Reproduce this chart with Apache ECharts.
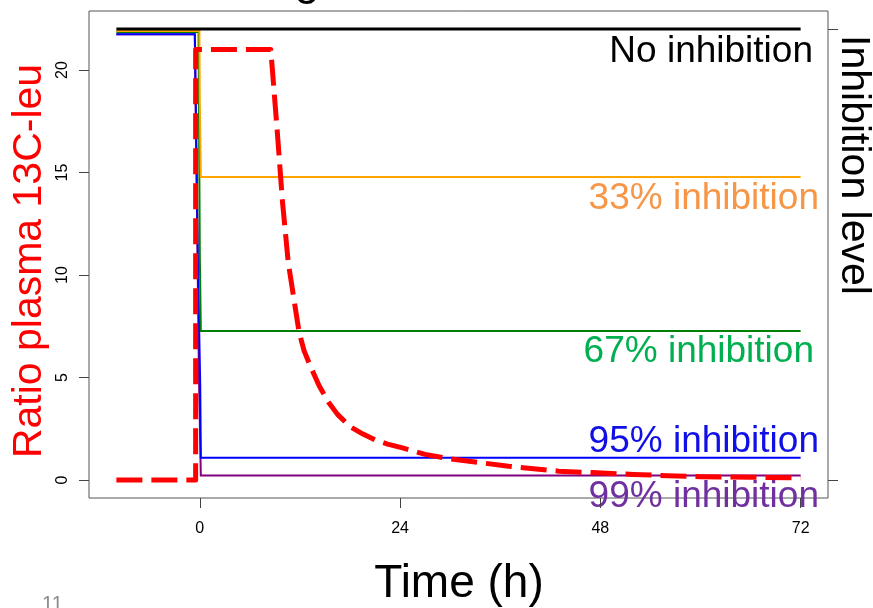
<!DOCTYPE html>
<html>
<head>
<meta charset="utf-8">
<script src="https://cdn.jsdelivr.net/npm/echarts@6/dist/echarts.min.js"></script>
<style>
html,body{margin:0;padding:0;background:#fff;}
#chart{width:873px;height:608px;}
</style>
</head>
<body>
<div id="chart"></div>
<script>
// ---- data ----
const xTicks = [0, 24, 48, 72];
const yTicks = [0, 5, 10, 15, 20];
const rightTicks = [0, 22];

const noInhTime = [-10, 72];
const noInhVal  = [22.0, 22.0];

const inh33Time = [-10, -0.05, 0, 0.12, 72];
const inh33Val  = [21.9, 21.9, 18.4, 14.78, 14.78];

const inh67Time = [-10, -0.15, 0, 0.12, 72];
const inh67Val  = [21.85, 21.85, 10.9, 7.27, 7.27];

const inh95Time = [-10, -0.6, -0.2, 0.05, 0.12, 72];
const inh95Val  = [21.75, 21.75, 10, 4.6, 1.08, 1.08];

const inh99Time = [-10, -0.6, -0.1, 0.12, 72];
const inh99Val  = [21.75, 21.75, 5, 0.22, 0.22];

const plasmaTime = [-10, -0.5, -0.5, 8.5, 8.7, 9.3, 9.9, 10.6, 11.9, 12.5, 13.3, 14.3, 15.4, 16.5, 18, 19.5, 21, 22.5, 24.4, 27, 30, 33.5, 37, 40, 43, 47, 52, 56, 60, 66, 72];
const plasmaVal  = [0, 0, 21.0, 21.0, 20.0, 16.9, 13.6, 10.6, 7.2, 6.3, 5.5, 4.6, 3.8, 3.2, 2.6, 2.25, 1.95, 1.75, 1.55, 1.25, 1.03, 0.85, 0.67, 0.55, 0.43, 0.36, 0.27, 0.21, 0.16, 0.13, 0.1];

const seriesNames = ['99% inhibition', '95% inhibition', '67% inhibition', '33% inhibition', 'No inhibition', 'Ratio plasma 13C-leu'];

function pairs(t, v) { return t.map((x, i) => [x, v[i]]); }

const FONT = 'Liberation Sans, Arial, sans-serif';
const chart = echarts.init(document.getElementById('chart'), null, {renderer: 'canvas'});

function flat(name, t, v, color, width) {
  return {
    name: name, type: 'line', data: pairs(t, v), showSymbol: false, symbol: 'none',
    xAxisIndex: 0, yAxisIndex: 0,
    lineStyle: {color: color, width: width, cap: 'butt', join: 'miter'},
    silent: true, animation: false
  };
}

const option = {
  animation: false,
  grid: {left: 89, right: 45, top: 11, bottom: 110, show: true, borderColor: '#555', borderWidth: 1, backgroundColor: 'transparent'},
  xAxis: {
    type: 'value', min: -13.28, max: 75.28,
    splitLine: {show: false},
    axisLine: {show: false, onZero: false},
    axisTick: {show: true, customValues: xTicks, length: 10, lineStyle: {color: '#444', width: 1}},
    axisLabel: {customValues: xTicks, fontSize: 16, color: '#000', fontFamily: FONT, margin: 23}
  },
  yAxis: [{
    type: 'value', min: -0.88, max: 22.88, position: 'left',
    splitLine: {show: false},
    axisLine: {show: false, onZero: false},
    axisTick: {show: true, customValues: yTicks, length: 10, lineStyle: {color: '#444', width: 1}},
    axisLabel: {customValues: yTicks, fontSize: 16, color: '#000', fontFamily: FONT, rotate: 90, margin: 18}
  }, {
    type: 'value', min: -0.88, max: 22.88, position: 'right',
    splitLine: {show: false},
    axisLine: {show: false, onZero: false},
    axisTick: {show: true, customValues: rightTicks, length: 10, lineStyle: {color: '#444', width: 1}},
    axisLabel: {show: false}
  }],
  series: [
    flat(seriesNames[0], inh99Time, inh99Val, '#800080', 2),
    flat(seriesNames[1], inh95Time, inh95Val, '#0000FF', 2),
    flat(seriesNames[2], inh67Time, inh67Val, '#008000', 2),
    flat(seriesNames[3], inh33Time, inh33Val, '#FFA500', 2),
    flat(seriesNames[4], noInhTime, noInhVal, '#000000', 3),
    {
      name: seriesNames[5], type: 'line', data: pairs(plasmaTime, plasmaVal), showSymbol: false, symbol: 'none',
      xAxisIndex: 0, yAxisIndex: 0,
      lineStyle: {color: '#FF0000', width: 5, type: [26, 9], cap: 'butt', join: 'round'},
      silent: true, animation: false
    }
  ],
  graphic: [
    {type: 'text', x: 813, y: 52, style: {text: 'No inhibition', font: '37px ' + FONT, fill: '#000', textAlign: 'right', textVerticalAlign: 'middle'}},
    {type: 'text', x: 819, y: 199, style: {text: '33% inhibition', font: '37px ' + FONT, fill: '#F79646', textAlign: 'right', textVerticalAlign: 'middle'}},
    {type: 'text', x: 814, y: 352, style: {text: '67% inhibition', font: '37px ' + FONT, fill: '#00B050', textAlign: 'right', textVerticalAlign: 'middle'}},
    {type: 'text', x: 819, y: 442, style: {text: '95% inhibition', font: '37px ' + FONT, fill: '#1010E6', textAlign: 'right', textVerticalAlign: 'middle'}},
    {type: 'text', x: 819, y: 497, style: {text: '99% inhibition', font: '37px ' + FONT, fill: '#7030A0', textAlign: 'right', textVerticalAlign: 'middle'}},
    {type: 'text', x: 30, y: 261, rotation: Math.PI / 2, style: {text: 'Ratio plasma 13C-leu', font: '41px ' + FONT, fill: '#FF0000', textAlign: 'center', textVerticalAlign: 'middle'}},
    {type: 'text', x: 853, y: 165, rotation: -Math.PI / 2, style: {text: 'Inhibition level', font: '41px ' + FONT, fill: '#000', textAlign: 'center', textVerticalAlign: 'middle'}},
    {type: 'text', x: 459, y: 584, style: {text: 'Time (h)', font: '46px ' + FONT, fill: '#000', textAlign: 'center', textVerticalAlign: 'middle'}},
    {type: 'text', x: 42, y: 594, style: {text: '11', font: '20px ' + FONT, fill: '#8C8C8C', textAlign: 'left', textVerticalAlign: 'top'}},
    {type: 'text', x: 307, y: 4, style: {text: 'g', font: '46px ' + FONT, fill: '#000', textAlign: 'center', textVerticalAlign: 'bottom'}}
  ]
};
chart.setOption(option);
</script>
</body>
</html>
